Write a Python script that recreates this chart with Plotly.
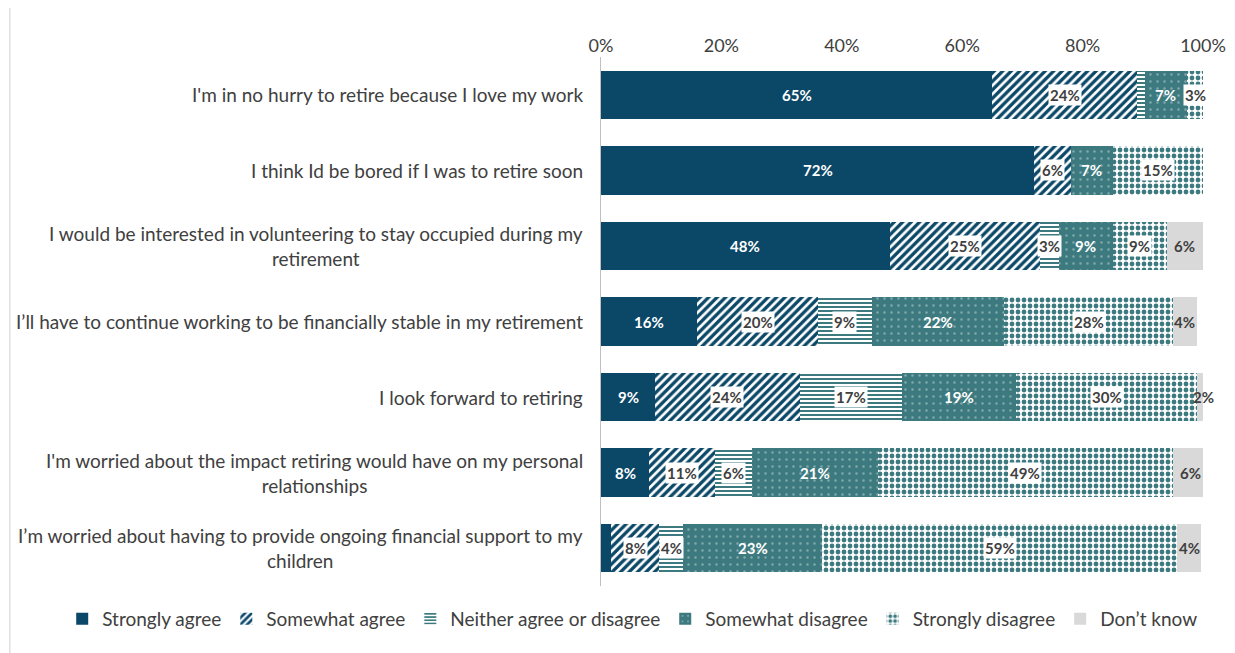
import plotly.graph_objects as go

statements = [
    "I'm in no hurry to retire because I love my work",
    "I think Id be bored if I was to retire soon",
    "I would be interested in volunteering to stay occupied during my<br>retirement",
    "I\u2019ll have to continue working to be financially stable in my retirement",
    "I look forward to retiring",
    "I'm worried about the impact retiring would have on my personal<br>relationships",
    "I\u2019m worried about having to provide ongoing financial support to my<br>children",
]

strongly_agree = [65, 72, 48, 16, 9, 8, 1.7]
somewhat_agree = [24, 6, 25, 20, 24, 11, 8]
neither = [1.3, 0, 3, 9, 17, 6, 4]
somewhat_disagree = [7, 7, 9, 22, 19, 21, 23]
strongly_disagree = [3, 15, 9, 28, 30, 49, 59]
dont_know = [0, 0, 6, 4, 2, 6, 4]

tick_vals = [0, 20, 40, 60, 80, 100]
tick_text = ["0%", "20%", "40%", "60%", "80%", "100%"]

NAVY = "#0b4868"
TEAL = "#3d7a80"
GREY = "#d9d9d9"
TXT = "#404040"
FONT = "Lato"

series = [
    ("Strongly agree", strongly_agree, dict(color=NAVY), "white", None),
    ("Somewhat agree", somewhat_agree,
     dict(color="white", pattern=dict(shape="/", fgcolor=NAVY, fgopacity=1, bgcolor="white",
                                      size=6, solidity=0.55)),
     TXT, "white"),
    ("Neither agree or disagree", neither,
     dict(color="white", pattern=dict(shape="-", fgcolor=TEAL, fgopacity=1, bgcolor="white",
                                      size=4, solidity=0.5)),
     TXT, "white"),
    ("Somewhat disagree", somewhat_disagree,
     dict(color=TEAL, pattern=dict(shape=".", fgcolor="#9dbdc0", fillmode="overlay", fgopacity=0.7,
                                   size=7, solidity=0.1)),
     "white", None),
    ("Strongly disagree", strongly_disagree,
     dict(color="white", pattern=dict(shape=".", fgcolor=TEAL, fgopacity=1, bgcolor="white",
                                      size=6, solidity=0.5)),
     TXT, "white"),
    ("Don\u2019t know", dont_know, dict(color=GREY), TXT, None),
]

fig = go.Figure()
annotations = []
base = [0] * len(statements)
for name, vals, marker, tcol, tbg in series:
    fig.add_trace(go.Bar(
        name=name, y=statements, x=vals, orientation="h",
        marker=dict(line=dict(width=0), opacity=1, **marker),
    ))
    for i, v in enumerate(vals):
        if v >= 2:
            a = dict(x=base[i] + v / 2, y=statements[i], xref="x", yref="y",
                     text="<b>%d%%</b>" % round(v), showarrow=False,
                     font=dict(family=FONT, size=15, color=tcol))
            if tbg:
                a.update(bgcolor=tbg, borderpad=1)
            annotations.append(a)
        base[i] += v

for s in statements:
    annotations.append(dict(x=0, y=s, xref="paper", yref="y", xanchor="right",
                            xshift=-16, align="center", text=s, showarrow=False,
                            font=dict(family=FONT, size=19, color=TXT)))

fig.update_layout(
    barmode="stack",
    bargap=0.36,
    width=1227, height=645,
    margin=dict(l=593, r=32, t=49, b=67, autoexpand=False),
    plot_bgcolor="white", paper_bgcolor="white",
    font=dict(family=FONT, size=18, color=TXT),
    annotations=annotations,
    legend=dict(orientation="h", x=-0.895, xanchor="left",
                y=-0.062, yanchor="middle", itemwidth=30,
                font=dict(family=FONT, size=19, color=TXT), traceorder="normal"),
    xaxis=dict(side="top", range=[0, 100], tickvals=tick_vals, ticktext=tick_text,
               showgrid=False, zeroline=False, showline=False,
               ticks="", tickfont=dict(family=FONT, size=18, color=TXT)),
    yaxis=dict(autorange="reversed", showticklabels=False, showline=True,
               linecolor="#bfbfbf", linewidth=1, ticks=""),
    shapes=[dict(type="line", xref="paper", yref="paper", x0=-0.982, x1=-0.982,
                 y0=-0.13, y1=1.11, line=dict(color="#d0d0d0", width=1))],
)

fig.write_html("out.html")
